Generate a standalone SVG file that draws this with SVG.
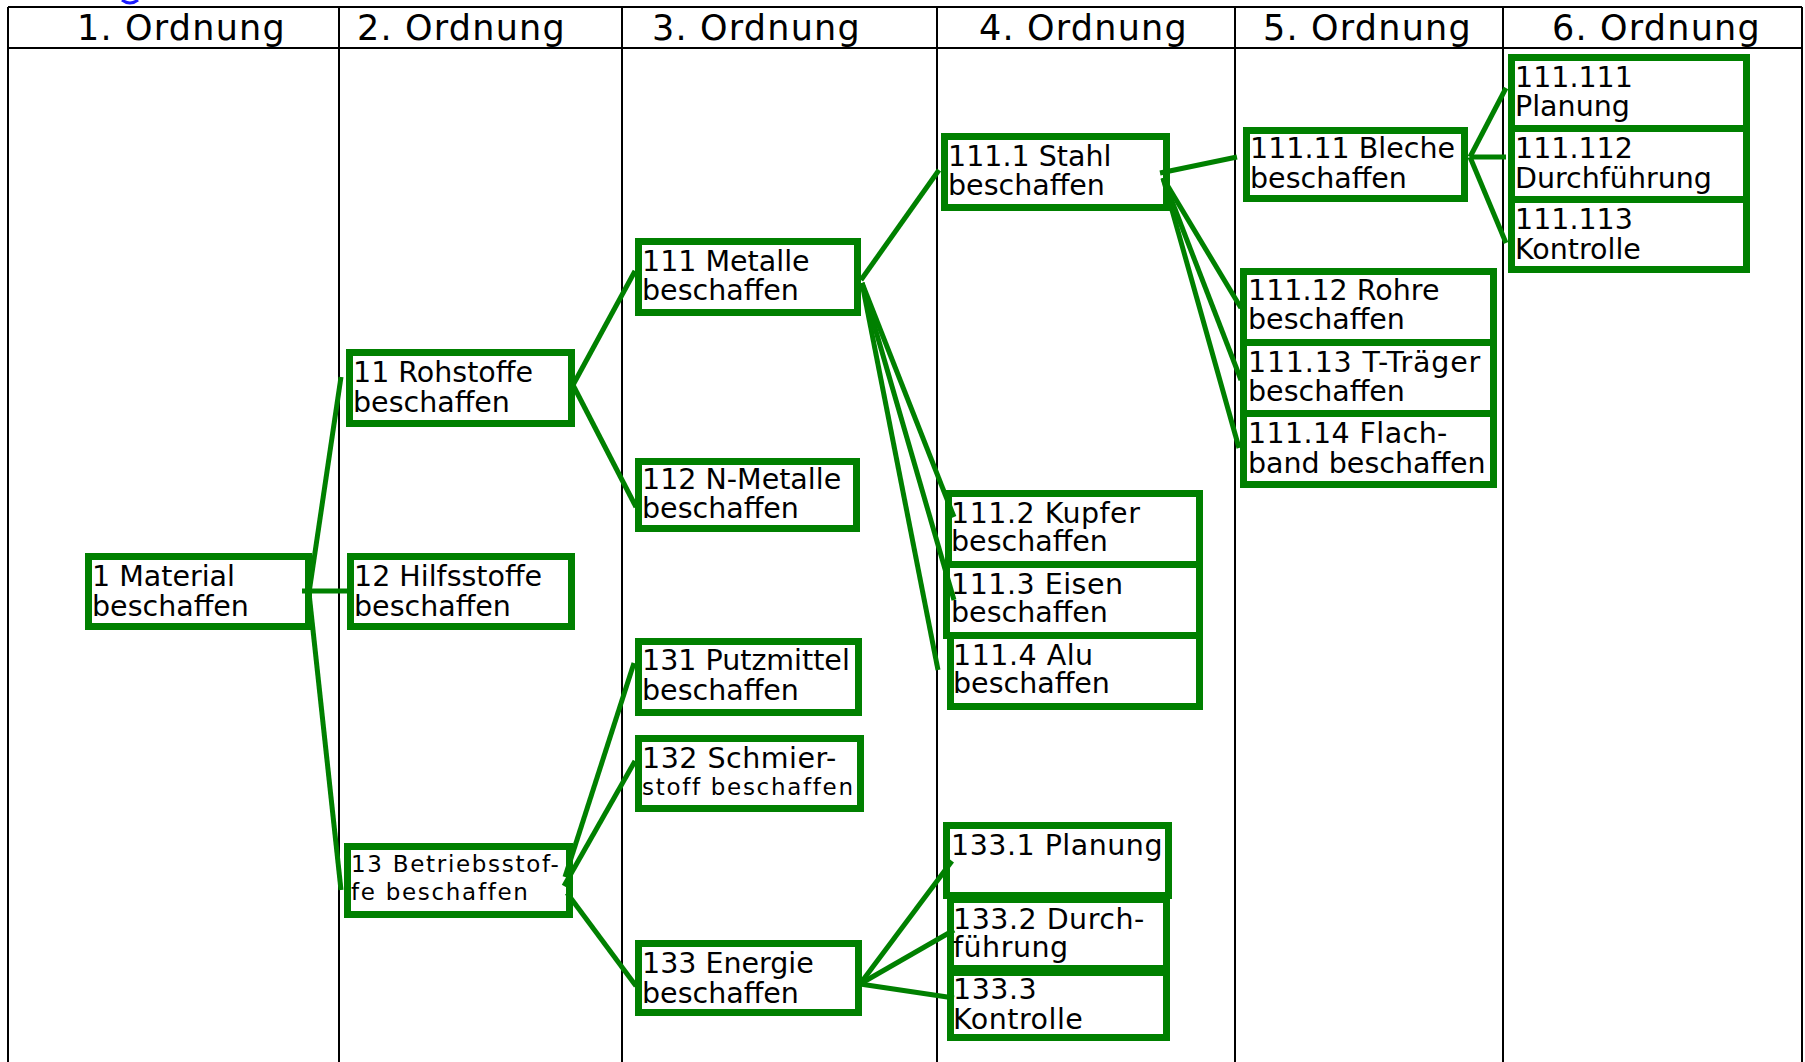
<svg xmlns="http://www.w3.org/2000/svg" width="1805" height="1062" viewBox="0 0 1805 1062">
  <style>
    .grid { stroke: #000; stroke-width: 2; fill: none; }
    .hdr { font-family: "DejaVu Sans", Verdana, sans-serif; font-size: 35px; letter-spacing: 1.2px; fill: #000; }
    .box { fill: #fff; stroke: #008000; stroke-width: 7; }
    .lbl { font-family: "DejaVu Sans", Verdana, sans-serif; font-size: 28.5px; fill: #000; }
    .sm { font-size: 23px; letter-spacing: 1.7px; }
    .wire { stroke: #008000; stroke-width: 5; fill: none; stroke-linecap: butt; }
  </style>

  <rect width="1805" height="1062" fill="#fff"/>

  <!-- small blue mark at the top edge -->
  <path d="M122 0 Q130 6 138 0" stroke="#1a1aff" stroke-width="3" fill="none"/>

  <!-- table frame -->
  <g id="table" class="grid">
    <line x1="8" y1="7" x2="1802" y2="7"/>
    <line x1="8" y1="48" x2="1802" y2="48"/>
    <line x1="8" y1="7" x2="8" y2="1062"/>
    <line x1="339" y1="7" x2="339" y2="1062"/>
    <line x1="622" y1="7" x2="622" y2="1062"/>
    <line x1="937" y1="7" x2="937" y2="1062"/>
    <line x1="1235" y1="7" x2="1235" y2="1062"/>
    <line x1="1503" y1="7" x2="1503" y2="1062"/>
    <line x1="1802" y1="7" x2="1802" y2="1062"/>
  </g>

  <g id="headers" class="hdr">
    <text x="77" y="40">1. Ordnung</text>
    <text x="357" y="40">2. Ordnung</text>
    <text x="652" y="40">3. Ordnung</text>
    <text x="979" y="40">4. Ordnung</text>
    <text x="1263" y="40">5. Ordnung</text>
    <text x="1552" y="40">6. Ordnung</text>
  </g>

  <!-- nodes -->
  <g id="n1"><rect class="box" x="88.5" y="556.5" width="220" height="70"/>
    <text class="lbl" x="92" y="586">1 Material</text><text class="lbl" x="92" y="616">beschaffen</text></g>

  <g id="n11"><rect class="box" x="349.5" y="352.5" width="222" height="71"/>
    <text class="lbl" x="353" y="382">11 Rohstoffe</text><text class="lbl" x="353" y="412">beschaffen</text></g>

  <g id="n12"><rect class="box" x="350.5" y="556.5" width="221" height="70"/>
    <text class="lbl" x="354" y="586">12 Hilfsstoffe</text><text class="lbl" x="354" y="616">beschaffen</text></g>

  <g id="n13"><rect class="box" x="347.5" y="846.5" width="222" height="68"/>
    <text class="lbl sm" x="351" y="872">13 Betriebsstof-</text><text class="lbl sm" x="351" y="900">fe beschaffen</text></g>

  <g id="n111"><rect class="box" x="638.5" y="241.5" width="219" height="71"/>
    <text class="lbl" x="642" y="271">111 Metalle</text><text class="lbl" x="642" y="300">beschaffen</text></g>

  <g id="n112"><rect class="box" x="638.5" y="461.5" width="218" height="67"/>
    <text class="lbl" x="642" y="489">112 N-Metalle</text><text class="lbl" x="642" y="518">beschaffen</text></g>

  <g id="n131"><rect class="box" x="638.5" y="641.5" width="220" height="71"/>
    <text class="lbl" x="642" y="670">131 Putzmittel</text><text class="lbl" x="642" y="700">beschaffen</text></g>

  <g id="n132"><rect class="box" x="638.5" y="738.5" width="222" height="70"/>
    <text class="lbl" x="642" y="768" letter-spacing="0.5">132 Schmier-</text><text class="lbl sm" x="642" y="795">stoff beschaffen</text></g>

  <g id="n133"><rect class="box" x="638.5" y="943.5" width="220" height="69"/>
    <text class="lbl" x="642" y="973">133 Energie</text><text class="lbl" x="642" y="1003">beschaffen</text></g>

  <g id="n111_1"><rect class="box" x="944.5" y="136.5" width="222" height="71"/>
    <text class="lbl" x="948" y="166">111.1 Stahl</text><text class="lbl" x="948" y="195">beschaffen</text></g>

  <g id="n111_2"><rect class="box" x="948.5" y="493.5" width="251" height="71"/>
    <text class="lbl" x="951" y="523" letter-spacing="0.5">111.2 Kupfer</text><text class="lbl" x="951" y="551">beschaffen</text></g>

  <g id="n111_3"><rect class="box" x="946.5" y="564.5" width="253" height="71"/>
    <text class="lbl" x="951" y="594" letter-spacing="0.5">111.3 Eisen</text><text class="lbl" x="951" y="622">beschaffen</text></g>

  <g id="n111_4"><rect class="box" x="950.5" y="635.5" width="249" height="71"/>
    <text class="lbl" x="953" y="665" letter-spacing="0.5">111.4 Alu</text><text class="lbl" x="953" y="693">beschaffen</text></g>

  <g id="n133_1"><rect class="box" x="946.5" y="825.5" width="222" height="70"/>
    <text class="lbl" x="951" y="855" letter-spacing="0.5">133.1 Planung</text></g>

  <g id="n133_2"><rect class="box" x="950.5" y="899.5" width="216" height="69"/>
    <text class="lbl" x="953" y="929" letter-spacing="0.5">133.2 Durch-</text><text class="lbl" x="953" y="957" letter-spacing="0.5">führung</text></g>

  <g id="n133_3"><rect class="box" x="950.5" y="972.5" width="216" height="65"/>
    <text class="lbl" x="953" y="999" letter-spacing="0.5">133.3</text><text class="lbl" x="953" y="1029" letter-spacing="0.5">Kontrolle</text></g>

  <g id="n111_11"><rect class="box" x="1246.5" y="130.5" width="218" height="68"/>
    <text class="lbl" x="1250" y="158">111.11 Bleche</text><text class="lbl" x="1250" y="188">beschaffen</text></g>

  <g id="n111_12"><rect class="box" x="1243.5" y="271.5" width="250" height="71"/>
    <text class="lbl" x="1248" y="300">111.12 Rohre</text><text class="lbl" x="1248" y="329">beschaffen</text></g>

  <g id="n111_13"><rect class="box" x="1243.5" y="342.5" width="250" height="71"/>
    <text class="lbl" x="1248" y="372" letter-spacing="0.8">111.13 T-Träger</text><text class="lbl" x="1248" y="401">beschaffen</text></g>

  <g id="n111_14"><rect class="box" x="1243.5" y="413.5" width="250" height="71"/>
    <text class="lbl" x="1248" y="443" letter-spacing="0.4">111.14 Flach-</text><text class="lbl" x="1248" y="473">band beschaffen</text></g>

  <g id="n111_111"><rect class="box" x="1511.5" y="57.5" width="235" height="71"/>
    <text class="lbl" x="1515" y="87">111.111</text><text class="lbl" x="1515" y="116">Planung</text></g>

  <g id="n111_112"><rect class="box" x="1511.5" y="128.5" width="235" height="71"/>
    <text class="lbl" x="1515" y="158">111.112</text><text class="lbl" x="1515" y="188">Durchführung</text></g>

  <g id="n111_113"><rect class="box" x="1511.5" y="199.5" width="235" height="70"/>
    <text class="lbl" x="1515" y="229">111.113</text><text class="lbl" x="1515" y="259">Kontrolle</text></g>

  <!-- connectors -->
  <g id="connectors" class="wire">
    <line x1="309" y1="593" x2="341" y2="377"/>
    <line x1="302" y1="591" x2="348" y2="591"/>
    <line x1="309" y1="593" x2="341" y2="890"/>

    <line x1="573" y1="385" x2="635" y2="271"/>
    <line x1="573" y1="385" x2="636" y2="507"/>

    <line x1="565" y1="877" x2="634" y2="663"/>
    <line x1="564" y1="886" x2="635" y2="761"/>
    <line x1="567" y1="893" x2="636" y2="986"/>

    <line x1="861" y1="280" x2="939" y2="170"/>
    <line x1="862" y1="283" x2="954" y2="517"/>
    <line x1="862" y1="283" x2="954" y2="600"/>
    <line x1="862" y1="283" x2="938" y2="670"/>

    <line x1="860" y1="984" x2="952" y2="861"/>
    <line x1="860" y1="984" x2="954" y2="930"/>
    <line x1="860" y1="984" x2="954" y2="998"/>

    <line x1="1160" y1="173" x2="1237" y2="157"/>
    <line x1="1163" y1="178" x2="1241" y2="308"/>
    <line x1="1163" y1="178" x2="1241" y2="380"/>
    <line x1="1163" y1="178" x2="1239" y2="448"/>

    <line x1="1470" y1="157" x2="1506" y2="88"/>
    <line x1="1470" y1="157" x2="1506" y2="157"/>
    <line x1="1470" y1="157" x2="1506" y2="243"/>
  </g>
</svg>
